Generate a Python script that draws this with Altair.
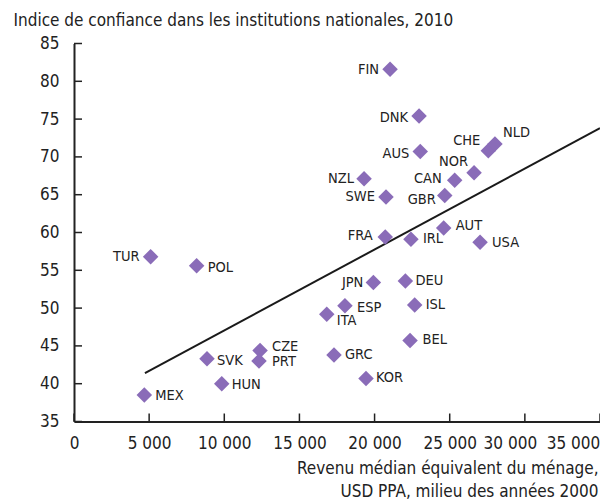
import altair as alt
import pandas as pd

# ---------------- data ----------------
countries = ["FIN", "DNK", "AUS", "CHE", "NLD", "NOR", "CAN", "NZL", "SWE", "GBR",
             "AUT", "FRA", "IRL", "USA", "TUR", "POL", "SVK", "CZE", "PRT", "HUN",
             "MEX", "ITA", "JPN", "DEU", "ESP", "ISL", "BEL", "GRC", "KOR"]
income = [21030, 22960, 23040, 27570, 28010, 26620, 25330, 19300, 20760, 24670,
          24600, 20710, 22420, 27020, 5100, 8160, 8850, 12380, 12310, 9830,
          4680, 16820, 19920, 22050, 18030, 22670, 22360, 17300, 19430]
trust = [81.6, 75.4, 70.7, 70.8, 71.7, 67.9, 66.9, 67.1, 64.7, 64.9,
         60.6, 59.4, 59.1, 58.7, 56.8, 55.6, 43.3, 44.4, 43.0, 40.0,
         38.5, 49.2, 53.4, 53.6, 50.3, 50.4, 45.7, 43.8, 40.7]
trend_income = [4720, 35000]
trend_trust = [41.4, 73.8]
x_ticks = [0, 5000, 10000, 15000, 20000, 25000, 30000, 35000]
y_ticks = [35, 40, 45, 50, 55, 60, 65, 70, 75, 80, 85]

title_y = "Indice de confiance dans les institutions nationales, 2010"
title_x = ["Revenu médian équivalent du ménage,", "USD PPA, milieu des années 2000"]

# ---------------- layout / style ----------------
label_nudge = {  # pixel offsets of the country labels (dx, dy)
    "FIN": (-11, 1), "DNK": (-11, 1.5), "AUS": (-11, 2), "CHE": (-8, -10),
    "NLD": (8, -11), "NOR": (-6, -11), "CAN": (-13, -1), "NZL": (-10, 0),
    "SWE": (-11, 0), "GBR": (-9, 5), "AUT": (12, -1.5), "FRA": (-12.5, -1.5),
    "IRL": (12, 0), "USA": (12, 1), "TUR": (-11, 0), "POL": (11, 2.5),
    "SVK": (10, 2), "CZE": (12, -3.5), "PRT": (13, 1), "HUN": (10, 1.5),
    "MEX": (11, 1), "ITA": (10, 7), "JPN": (-10, 1), "DEU": (10, 0),
    "ESP": (12, 2), "ISL": (11, 0), "BEL": (12.5, -0.5), "GRC": (11, 0),
    "KOR": (10, 0),
}

FONT = "DejaVu Sans Condensed, Liberation Sans Narrow, sans-serif"
TXT = "#222222"
PURPLE = "#8a6cb8"
W, H = 526, 378
FS = 17

pts = pd.DataFrame({"country": countries, "income": income, "trust": trust})
trend = pd.DataFrame({"income": trend_income, "trust": trend_trust})
xt = pd.DataFrame({"income": x_ticks})
yt = pd.DataFrame({"trust": y_ticks})

xscale = alt.Scale(domain=[0, 35000], nice=False, zero=False)
yscale = alt.Scale(domain=[35, 85], nice=False, zero=False)

xaxis = alt.Axis(
    values=x_ticks, grid=True, gridColor="white", gridWidth=2.5,
    ticks=False, domain=True, domainColor=TXT, domainWidth=2,
    labelFont=FONT, labelFontSize=FS, labelColor=TXT, labelPadding=14,
    labelOverlap=False, labelFlush=False,
    labelExpr="replace(format(datum.value, ','), ',', ' ')",
    labelOffset={"condition": [{"test": "datum.value == 30000", "value": -15},
                               {"test": "datum.value == 35000", "value": -27}],
                 "value": 0},
    title=title_x, titleFont=FONT, titleFontSize=FS, titleFontWeight="normal",
    titleColor=TXT, titleAlign="right", titleAngle=0, titleX=524, titleY=52,
    titleBaseline="alphabetic", titleLineHeight=22.5,
)
yaxis = alt.Axis(
    values=y_ticks, grid=True, gridColor="white", gridWidth=2.5,
    ticks=False, domain=True, domainColor=TXT, domainWidth=2,
    labelFont=FONT, labelFontSize=FS, labelColor=TXT, labelPadding=15,
    labelOverlap=False,
    title=title_y, titleFont=FONT, titleFontSize=FS, titleFontWeight="normal",
    titleColor=TXT, titleAlign="left", titleAngle=0, titleBaseline="middle",
    titleX=-61, titleY=-23.5,
)

X = alt.X("income:Q", scale=xscale, axis=xaxis)
Y = alt.Y("trust:Q", scale=yscale, axis=yaxis)

yticks = alt.Chart(yt).mark_rule(color=TXT, strokeWidth=1.5).encode(
    y=Y, x=alt.value(0), x2=alt.value(8))
xticks = alt.Chart(xt).mark_rule(color=TXT, strokeWidth=1.5).encode(
    x=X, y=alt.value(H), y2=alt.value(H - 8))

line = alt.Chart(trend).mark_line(color="#1a1a1a", strokeWidth=2).encode(x=X, y=Y)

points = alt.Chart(pts).mark_point(
    shape="diamond", filled=True, size=240, color=PURPLE, opacity=1
).encode(x=X, y=Y)

labels = []
for c in countries:
    dx, dy = label_nudge[c]
    labels.append(
        alt.Chart(pts).transform_filter(alt.datum.country == c).mark_text(
            align="right" if dx < 0 else "left", baseline="middle",
            dx=dx, dy=dy, font=FONT, fontSize=14.5, color=TXT
        ).encode(x=X, y=Y, text="country:N")
    )

chart = alt.layer(yticks, xticks, line, points, *labels).properties(
    width=W, height=H,
    autosize=alt.AutoSizeParams(type="none"),
    padding={"left": 66, "top": 35.5, "right": 0, "bottom": 78.5},
).configure_view(fill="#e6e7e9", strokeWidth=0).configure(background="white")

chart.save("out.html", embed_options={"renderer": "svg", "actions": False})
